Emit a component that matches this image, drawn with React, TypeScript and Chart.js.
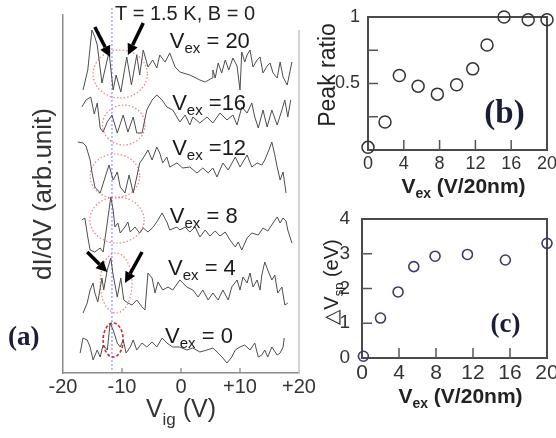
import React, { useEffect, useRef } from "react";
import { Chart, registerables } from "chart.js";

Chart.register(...registerables);

const SANS = '"Liberation Sans", Arial, sans-serif';
const SERIF = '"Liberation Serif", "Times New Roman", serif';

// ---------- Panel (a): dI/dV traces, [Vig (V), dI/dV (arb. unit, vertical offset included)] ----------
const trace20: number[][] = [
  [-16.6, 283], [-15.8, 303], [-15.1, 343], [-14.6, 336], [-14.2, 328], [-13.4, 290], [-12.9, 303],
  [-12.2, 321], [-11.5, 283], [-11.0, 298], [-10.2, 281], [-9.2, 316], [-8.4, 288], [-7.5, 318],
  [-7.0, 298], [-6.4, 323], [-5.6, 306], [-4.8, 313], [-4.1, 305], [-3.6, 318], [-2.7, 311],
  [-1.9, 320], [-1.0, 306], [-0.2, 301], [1.5, 298], [3.2, 293], [4.1, 291], [5.3, 295], [5.4, 303],
  [5.8, 295], [6.3, 310], [6.9, 300], [7.5, 313], [8.1, 303], [8.8, 315], [9.5, 307], [10.0, 283],
  [10.3, 321], [10.8, 311], [11.2, 318], [11.7, 323], [12.2, 306], [12.9, 313], [13.4, 316],
  [13.9, 300], [14.6, 307], [15.1, 310], [15.6, 300], [16.3, 295], [16.8, 311], [17.3, 296],
  [18.0, 288], [18.8, 311],
];
const trace16: number[][] = [
  [-16.8, 266], [-16.1, 273], [-15.3, 276], [-14.7, 259], [-14.2, 270], [-13.7, 245], [-13.2, 241],
  [-12.5, 251], [-11.7, 258], [-10.8, 240], [-10.3, 249], [-9.8, 258], [-9.0, 241], [-8.1, 256],
  [-7.5, 240], [-6.6, 240], [-5.8, 263], [-4.9, 273], [-4.1, 278], [-3.2, 273], [-2.4, 266],
  [-1.4, 263], [-0.2, 251], [0.7, 258], [1.5, 248], [2.0, 256], [3.2, 250], [4.4, 256], [5.4, 250],
  [6.6, 260], [7.8, 253], [8.8, 258], [9.5, 248], [10.3, 266], [11.2, 260], [12.0, 270], [12.5, 256],
  [13.1, 245], [13.9, 263], [14.6, 246], [15.4, 263], [16.3, 248], [17.1, 263], [17.6, 273],
  [18.1, 256], [18.6, 273],
];
const trace12: number[][] = [
  [-17.5, 231], [-16.6, 230], [-16.1, 227], [-15.4, 213], [-15.1, 201], [-14.6, 186], [-13.7, 180],
  [-12.9, 195], [-12.2, 208], [-11.5, 193], [-10.8, 201], [-10.3, 186], [-9.5, 180], [-8.8, 198],
  [-8.1, 180], [-7.5, 196], [-7.0, 210], [-6.3, 216], [-5.6, 223], [-4.9, 213], [-4.1, 226],
  [-3.6, 220], [-3.1, 210], [-2.4, 216], [-1.9, 206], [-0.7, 210], [0.3, 205], [1.5, 206], [2.7, 200],
  [3.7, 205], [4.6, 200], [5.4, 205], [6.1, 196], [7.1, 210], [8.0, 203], [9.2, 216], [10.0, 206],
  [11.2, 218], [12.0, 206], [12.9, 210], [13.7, 208], [14.2, 213], [14.9, 223], [15.4, 231],
  [15.9, 218], [16.3, 206], [16.8, 193], [17.3, 201], [17.8, 180],
];
const trace8: number[][] = [
  [-16.8, 153], [-16.3, 155], [-15.8, 136], [-15.4, 123], [-14.6, 121], [-13.7, 125], [-13.2, 121],
  [-12.5, 150], [-11.9, 176], [-11.5, 163], [-11.2, 146], [-10.7, 150], [-10.3, 140], [-9.5, 146],
  [-9.0, 151], [-8.6, 141], [-7.8, 146], [-7.0, 140], [-6.4, 145], [-5.6, 141], [-4.7, 146],
  [-3.9, 153], [-3.2, 160], [-2.4, 151], [-1.9, 143], [-0.7, 146], [-0.2, 143], [0.7, 146], [1.5, 141],
  [2.4, 146], [3.2, 136], [4.1, 143], [4.9, 137], [5.8, 142], [6.6, 137], [7.5, 141], [8.3, 133],
  [9.2, 126], [9.7, 131], [10.3, 123], [11.2, 135], [12.0, 140], [13.1, 138], [13.9, 145],
  [14.7, 142], [15.6, 150], [16.3, 156], [16.8, 150], [17.3, 155], [17.8, 152], [18.1, 143], [18.8, 130],
];
const trace4: number[][] = [
  [-16.6, 60], [-15.9, 70], [-15.4, 83], [-14.9, 90], [-14.6, 80], [-14.1, 71], [-13.4, 95],
  [-13.1, 83], [-12.5, 103], [-11.9, 115], [-11.5, 98], [-10.8, 76], [-10.2, 95], [-9.7, 73],
  [-9.0, 70], [-8.3, 68], [-7.5, 73], [-6.6, 66], [-6.1, 63], [-5.6, 100], [-4.9, 95], [-4.4, 80],
  [-3.9, 91], [-3.1, 83], [-2.2, 86], [-1.4, 83], [-0.2, 93], [1.0, 86], [2.0, 83], [2.9, 76],
  [3.7, 83], [4.6, 73], [5.4, 80], [6.3, 73], [7.1, 83], [8.0, 73], [8.6, 86], [9.5, 93], [10.0, 83],
  [10.5, 96], [11.2, 90], [11.7, 100], [12.2, 86], [12.9, 93], [13.4, 83], [13.7, 98], [14.2, 111],
  [14.7, 103], [15.4, 93], [15.9, 98], [16.4, 80], [17.1, 86], [17.6, 68], [18.1, 70],
];
const trace0: number[][] = [
  [-17.1, 20], [-16.6, 35], [-15.9, 33], [-15.4, 26], [-14.9, 13], [-14.2, 23], [-13.7, 16],
  [-13.2, 28], [-12.5, 23], [-12.0, 50], [-11.5, 43], [-10.8, 30], [-10.3, 26], [-9.8, 33],
  [-9.3, 20], [-8.6, 26], [-8.1, 33], [-7.5, 23], [-6.6, 30], [-5.8, 26], [-4.9, 31], [-4.1, 26],
  [-3.2, 35], [-2.4, 30], [-1.4, 26], [-0.2, 26], [1.0, 23], [2.0, 25], [3.2, 21], [4.4, 23],
  [5.4, 25], [6.3, 20], [7.1, 15], [7.8, 10], [8.6, 16], [9.2, 23], [10.0, 26], [10.8, 28],
  [11.7, 23], [12.5, 30], [13.1, 16], [13.7, 18], [14.2, 23], [14.7, 16], [15.4, 26], [16.3, 18],
  [16.8, 20], [17.3, 26], [17.5, 35],
];
const traces = [trace20, trace16, trace12, trace8, trace4, trace0];

// Trace labels (V_ex value text) and their anchor in data units
const vexLabelText = [" = 20", " =16", " =12", " = 8", " = 4", " = 0"];
const vexLabelV = [-1.9, -1.5, -1.5, -1.9, -2.2, -2.7];
const vexLabelY = [325, 263, 218, 150, 98, 30];

// Annotation ellipses (center V, center Y, radius V, radius Y)
const ringV = [-10.3, -9.7, -11.2, -10.85, -11.0, -11.5];
const ringY = [299, 248, 197, 153, 90, 33];
const ringRV = [4.6, 3.6, 4.2, 4.6, 2.7, 1.7];
const ringRY = [24, 20, 22, 23, 30, 17];

// Arrows: [fromV, fromY, toV, toY]
const arrows: number[][] = [
  [-14.6, 346, -12.0, 316],
  [-6.4, 350, -9.0, 318],
  [-15.9, 121, -12.5, 101],
  [-6.6, 121, -9.5, 90],
];
const guideV = -11.7;
const xTicksA = [-20, -10, 0, 10, 20];

// ---------- Panel (b): peak ratio ----------
const vexB = [0, 1.9, 3.5, 5.6, 7.75, 9.9, 11.7, 13.3, 15.2, 17.9, 20];
const peakRatio = [0.02, 0.21, 0.56, 0.48, 0.42, 0.49, 0.61, 0.79, 1.0, 0.98, 0.98];

// ---------- Panel (c): delta V_sp ----------
const vexC = [0.15, 2.0, 3.9, 5.6, 7.9, 11.4, 15.5, 20.0];
const deltaVsp = [0.05, 1.15, 1.9, 2.63, 2.93, 2.98, 2.82, 3.3];

type Part = [string, boolean];

function richText(
  ctx: CanvasRenderingContext2D, x: number, y: number, parts: Part[], size: number, subSize: number,
  subShift: number, weight: string, family: string, color: string, align: "left" | "center", rot = 0
) {
  ctx.save();
  ctx.translate(x, y);
  if (rot) ctx.rotate(rot);
  ctx.fillStyle = color;
  ctx.textBaseline = "alphabetic";
  ctx.textAlign = "left";
  const fonts = parts.map(([, sub]) => `${weight} ${sub ? subSize : size}px ${family}`);
  const widths = parts.map(([t], i) => {
    ctx.font = fonts[i];
    return ctx.measureText(t).width;
  });
  const total = widths.reduce((a, b) => a + b, 0);
  let cx = align === "center" ? -total / 2 : 0;
  parts.forEach(([t, sub], i) => {
    ctx.font = fonts[i];
    ctx.fillText(t, cx, sub ? subShift : 0);
    cx += widths[i];
  });
  ctx.restore();
}

const panelAPlugin = {
  id: "panelA",
  beforeDatasetsDraw(chart: any) {
    const { ctx, scales } = chart;
    const x = scales.x, y = scales.y;
    ctx.save();
    // guide line
    ctx.strokeStyle = "#7b7be6";
    ctx.lineWidth = 1;
    ctx.setLineDash([2, 2]);
    ctx.beginPath();
    const gx = x.getPixelForValue(guideV);
    ctx.moveTo(gx, y.getPixelForValue(365));
    ctx.lineTo(gx, y.getPixelForValue(0));
    ctx.stroke();
    // ellipses
    ringV.forEach((v, i) => {
      const strong = i === ringV.length - 1;
      ctx.strokeStyle = strong ? "#d42424" : "#e88080";
      ctx.lineWidth = strong ? 1.6 : 1.2;
      ctx.setLineDash(strong ? [3, 2] : [1.5, 2]);
      const cx = x.getPixelForValue(v);
      const cy = y.getPixelForValue(ringY[i]);
      const rx = Math.abs(x.getPixelForValue(v + ringRV[i]) - cx);
      const ry = Math.abs(y.getPixelForValue(ringY[i] + ringRY[i]) - cy);
      ctx.beginPath();
      ctx.ellipse(cx, cy, rx, ry, 0, 0, Math.PI * 2);
      ctx.stroke();
    });
    ctx.restore();
  },
  afterDatasetsDraw(chart: any) {
    const { ctx, scales, chartArea } = chart;
    const x = scales.x, y = scales.y;
    ctx.save();
    // right frame line
    ctx.strokeStyle = "#c4c4c4";
    ctx.lineWidth = 1.5;
    ctx.beginPath();
    ctx.moveTo(x.getPixelForValue(20), y.getPixelForValue(343));
    ctx.lineTo(x.getPixelForValue(20), chartArea.bottom);
    ctx.stroke();
    // inward tick marks
    ctx.strokeStyle = "#808080";
    ctx.lineWidth = 1.2;
    xTicksA.slice(1, -1).forEach((t) => {
      const px = x.getPixelForValue(t);
      ctx.beginPath();
      ctx.moveTo(px, chartArea.bottom);
      ctx.lineTo(px, chartArea.bottom - 5);
      ctx.stroke();
    });
    // arrows
    ctx.strokeStyle = "#000";
    ctx.fillStyle = "#000";
    arrows.forEach(([v0, y0, v1, y1]) => {
      const ax = x.getPixelForValue(v0), ay = y.getPixelForValue(y0);
      const bx = x.getPixelForValue(v1), by = y.getPixelForValue(y1);
      const ang = Math.atan2(by - ay, bx - ax);
      const hl = 11, hw = 5.5;
      const ex = bx - Math.cos(ang) * hl, ey = by - Math.sin(ang) * hl;
      ctx.lineWidth = 3.5;
      ctx.beginPath();
      ctx.moveTo(ax, ay);
      ctx.lineTo(ex, ey);
      ctx.stroke();
      ctx.beginPath();
      ctx.moveTo(bx, by);
      ctx.lineTo(ex - Math.sin(ang) * hw, ey + Math.cos(ang) * hw);
      ctx.lineTo(ex + Math.sin(ang) * hw, ey - Math.cos(ang) * hw);
      ctx.closePath();
      ctx.fill();
    });
    ctx.restore();
    // texts
    richText(ctx, x.getPixelForValue(-11.2), y.getPixelForValue(353), [["T = 1.5 K, B = 0", false]], 20, 14, 0, "normal", SANS, "#222", "left");
    vexLabelText.forEach((t, i) => {
      richText(ctx, x.getPixelForValue(vexLabelV[i]), y.getPixelForValue(vexLabelY[i]),
        [["V", false], ["ex", true], [t, false]], 22, 15, 5, "normal", SANS, "#1a1a1a", "left");
    });
    richText(ctx, x.getPixelForValue(0), chartArea.bottom + 44,
      [["V", false], ["ig", true], [" (V)", false]], 25, 17, 8, "normal", SANS, "#333", "center");
    richText(ctx, 8, 345, [["(a)", false]], 27, 14, 0, "bold", SERIF, "#1b1b3a", "left");
  },
};

function boxPlugin(id: string, yTickVals: number[], label: string, labelX: number, labelY: number, labelSize: number, titleBaseline: number, yTitle: () => void | null) {
  return {
    id,
    afterDraw() {},
  };
}

const makeFramePlugin = (
  id: string, yTickVals: number[], panelLabel: string, panelV: number, panelY: number, panelSize: number,
  xTitleOffset: number, drawYTitle: (ctx: CanvasRenderingContext2D, area: any) => void
) => ({
  id,
  beforeDatasetsDraw(chart: any) {
    const { ctx, chartArea, scales } = chart;
    const { left, right, top, bottom } = chartArea;
    ctx.save();
    ctx.strokeStyle = "#4a4a4a";
    ctx.lineWidth = 2;
    ctx.strokeRect(left, top, right - left, bottom - top);
    ctx.lineWidth = 1.5;
    ctx.strokeStyle = "#555";
    yTickVals.forEach((v) => {
      const py = scales.y.getPixelForValue(v);
      ctx.beginPath();
      ctx.moveTo(left, py);
      ctx.lineTo(left + 10, py);
      ctx.stroke();
    });
    [4, 8, 12, 16].forEach((v) => {
      const px = scales.x.getPixelForValue(v);
      ctx.beginPath();
      ctx.moveTo(px, bottom);
      ctx.lineTo(px, bottom - 10);
      ctx.stroke();
    });
    ctx.restore();
  },
  afterDatasetsDraw(chart: any) {
    const { ctx, chartArea, scales } = chart;
    richText(ctx, scales.x.getPixelForValue(panelV), scales.y.getPixelForValue(panelY), [[panelLabel, false]],
      panelSize, 14, 0, "bold", SERIF, "#1b1b3a", "left");
    richText(ctx, (chartArea.left + chartArea.right) / 2 + 6, chartArea.bottom + xTitleOffset,
      [["V", false], ["ex", true], [" (V/20nm)", false]], 21, 14, 5, "bold", SANS, "#222", "center");
    drawYTitle(ctx, chartArea);
  },
});

function useChart(ref: React.RefObject<HTMLCanvasElement | null>, makeConfig: () => any) {
  useEffect(() => {
    if (!ref.current) return;
    const chart = new Chart(ref.current, makeConfig());
    return () => chart.destroy();
  }, []);
}

export default function App() {
  const refA = useRef<HTMLCanvasElement>(null);
  const refB = useRef<HTMLCanvasElement>(null);
  const refC = useRef<HTMLCanvasElement>(null);

  useChart(refA, () => ({
    type: "line",
    data: {
      datasets: traces.map((t) => ({
        data: t.map(([vx, vy]) => ({ x: vx, y: vy })),
        borderColor: "#4d4d4d",
        borderWidth: 1,
        pointRadius: 0,
        tension: 0,
        fill: false,
      })),
    },
    options: {
      responsive: false,
      animation: false,
      events: [],
      layout: { padding: { left: 0, right: 21, top: 15, bottom: 0 } },
      plugins: { legend: { display: false }, tooltip: { enabled: false } },
      scales: {
        x: {
          type: "linear",
          min: -20,
          max: 20,
          afterFit(s: any) { s.height = 65; s.paddingLeft = 0; s.paddingRight = 0; },
          afterBuildTicks(s: any) { s.ticks = xTicksA.map((v) => ({ value: v })); },
          ticks: {
            callback: (v: number) => (v > 0 ? "+" + v : String(v)),
            font: { family: SANS, size: 20 },
            color: "#333",
            padding: 2,
            maxRotation: 0,
            autoSkip: false,
          },
          grid: { display: false, drawTicks: false },
          border: { display: true, color: "#8a8a8a", width: 1.5 },
        },
        y: {
          min: 0,
          max: 358,
          afterFit(s: any) { s.width = 63; s.paddingTop = 0; s.paddingBottom = 0; },
          ticks: { display: false },
          grid: { display: false, drawTicks: false },
          border: { display: true, color: "#8a8a8a", width: 1.5 },
          title: {
            display: true,
            text: "dI/dV (arb.unit)",
            font: { family: SANS, size: 26 },
            color: "#333",
            padding: { top: 28, bottom: 0 },
          },
        },
      },
    },
    plugins: [panelAPlugin],
  }));

  useChart(refB, () => ({
    type: "scatter",
    data: {
      datasets: [{
        data: vexB.map((v, i) => ({ x: v, y: peakRatio[i] })),
        pointRadius: 6,
        pointBorderWidth: 1.5,
        borderColor: "#333",
        pointBorderColor: "#333",
        pointBackgroundColor: "rgba(0,0,0,0)",
        clip: false,
      }],
    },
    options: {
      responsive: false,
      animation: false,
      events: [],
      layout: { padding: { left: 0, right: 9, top: 17, bottom: 0 } },
      plugins: { legend: { display: false }, tooltip: { enabled: false } },
      scales: {
        x: {
          type: "linear", min: 0, max: 20,
          afterFit(s: any) { s.height = 55; s.paddingLeft = 0; s.paddingRight = 0; },
          ticks: { stepSize: 4, font: { family: SANS, size: 18 }, color: "#333", padding: 3, maxRotation: 0, autoSkip: false },
          grid: { display: false, drawTicks: false },
          border: { display: false },
        },
        y: {
          min: 0, max: 1,
          afterFit(s: any) { s.width = 68; s.paddingTop = 0; s.paddingBottom = 0; },
          ticks: {
            stepSize: 0.25,
            callback: (v: number) => (v === 0.5 ? "0.5" : v === 1 ? "1" : ""),
            font: { family: SANS, size: 18 }, color: "#333", padding: 8,
          },
          grid: { display: false, drawTicks: false },
          border: { display: false },
        },
      },
    },
    plugins: [makeFramePlugin("frameB", [0.25, 0.5, 0.75], "(b)", 13.0, 0.2, 33, 43,
      (ctx) => richText(ctx, 35, 75, [["Peak ratio", false]], 23, 14, 0, "normal", SANS, "#222", "center", -Math.PI / 2))],
  }));

  useChart(refC, () => ({
    type: "scatter",
    data: {
      datasets: [{
        data: vexC.map((v, i) => ({ x: v, y: deltaVsp[i] })),
        pointRadius: 5,
        pointBorderWidth: 1.6,
        borderColor: "#3a3a6e",
        pointBorderColor: "#3a3a6e",
        pointBackgroundColor: "rgba(0,0,0,0)",
        clip: false,
      }],
    },
    options: {
      responsive: false,
      animation: false,
      events: [],
      layout: { padding: { left: 0, right: 9, top: 14, bottom: 0 } },
      plugins: { legend: { display: false }, tooltip: { enabled: false } },
      scales: {
        x: {
          type: "linear", min: 0, max: 20,
          afterFit(s: any) { s.height = 80; s.paddingLeft = 0; s.paddingRight = 0; },
          ticks: { stepSize: 4, font: { family: SANS, size: 21 }, color: "#333", padding: 3, maxRotation: 0, autoSkip: false },
          grid: { display: false, drawTicks: false },
          border: { display: false },
        },
        y: {
          min: 0, max: 4,
          afterFit(s: any) { s.width = 62; s.paddingTop = 0; s.paddingBottom = 0; },
          ticks: { stepSize: 1, font: { family: SANS, size: 19 }, color: "#333", padding: 12 },
          grid: { display: false, drawTicks: false },
          border: { display: false },
        },
      },
    },
    plugins: [makeFramePlugin("frameC", [1, 2, 3], "(c)", 13.9, 0.75, 27, 45,
      (ctx) => richText(ctx, 38, 77, [["\u25B3V", false], ["sp", true], [" (eV)", false]], 20, 13, 5, "normal", SANS, "#222", "center", -Math.PI / 2))],
  }));

  return (
    <div style={{ position: "absolute", left: 0, top: 0, width: 556, height: 438, background: "#fff", overflow: "hidden" }}>
      <canvas ref={refA} width={320} height={438} style={{ position: "absolute", left: 0, top: 0 }} />
      <canvas ref={refB} width={256} height={205} style={{ position: "absolute", left: 300, top: 0 }} />
      <canvas ref={refC} width={256} height={233} style={{ position: "absolute", left: 300, top: 205 }} />
    </div>
  );
}
